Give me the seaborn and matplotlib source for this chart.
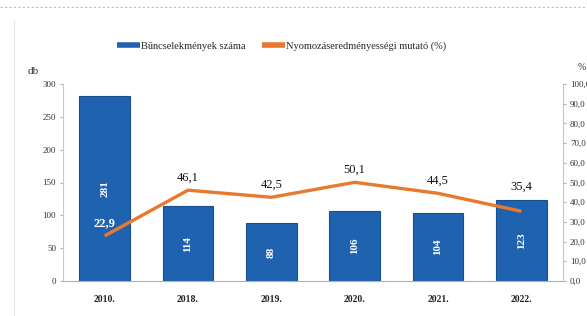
import numpy as np
import pandas as pd
import seaborn as sns
import matplotlib.pyplot as plt
from matplotlib.lines import Line2D

# Data
years = ["2010.", "2018.", "2019.", "2020.", "2021.", "2022."]
crimes = [281, 114, 88, 106, 104, 123]
rates = [22.9, 46.1, 42.5, 50.1, 44.5, 35.4]
left_ticks = [0, 50, 100, 150, 200, 250, 300]
right_ticks = [0, 10, 20, 30, 40, 50, 60, 70, 80, 90, 100]

bar_color = "#1f63b0"
line_color = "#e8792e"

sns.set_style("white")
plt.rcParams["font.family"] = ["Liberation Serif", "DejaVu Serif"]

df = pd.DataFrame({"year": years, "crimes": crimes, "rate": rates})

fig = plt.figure(figsize=(5.87, 3.16), dpi=100)
ax = fig.add_axes([63 / 587, 1 - 281 / 316, 500 / 587, 197 / 316])

sns.barplot(data=df, x="year", y="crimes", color=bar_color, width=0.61,
            saturation=1, edgecolor="#174f8f", linewidth=0.8, ax=ax)
ax.set_ylim(0, 300)
ax.set_xlim(-0.5, 5.5)
ax.set_yticks(left_ticks)
ax.set_yticklabels([str(t) for t in left_ticks])
ax.set_xlabel("")
ax.set_ylabel("")

# Values inside the bars
for i, v in enumerate(crimes):
    ax.text(i, v / 2, str(v), rotation=90, ha="center", va="center",
            color="white", fontsize=8, fontweight="bold")

# Line on the secondary axis
ax2 = ax.twinx()
sns.lineplot(x=np.arange(len(rates)), y=rates, color=line_color,
             linewidth=2.4, ax=ax2, solid_capstyle="butt")
ax2.set_ylim(0, 100)
ax2.set_yticks(right_ticks)
ax2.set_yticklabels([f"{t},0" for t in right_ticks])
ax2.set_ylabel("")
for i, r in enumerate(rates):
    # the last label sits above its bar, as in the source
    dy = 13 if i == len(rates) - 1 else 5
    ax2.annotate(f"{r:.1f}".replace(".", ","), (i, r), xytext=(0, dy),
                 textcoords="offset points", ha="center", va="bottom",
                 fontsize=9, color="white" if i == 0 else "#111111",
                 fontweight="bold" if i == 0 else "normal")

# Axis styling
for a in (ax, ax2):
    a.spines["top"].set_visible(False)
ax.spines["right"].set_visible(False)
ax2.spines["left"].set_visible(False)
ax.spines["left"].set_color("#c8c8c8")
ax2.spines["right"].set_color("#c8c8c8")
ax.spines["bottom"].set_color("#b0b0b0")
ax.spines["bottom"].set_linestyle((0, (1, 1)))
ax2.spines["bottom"].set_visible(False)
ax.tick_params(axis="y", length=2, color="#b0b0b0", labelsize=6.5,
               labelcolor="#333333", pad=3, left=True)
ax2.tick_params(axis="y", length=2, color="#b0b0b0", labelsize=6.5,
                labelcolor="#333333", pad=3, right=True)
ax.tick_params(axis="x", length=0, labelsize=7, pad=10)
for lbl in ax.get_xticklabels():
    lbl.set_fontweight("bold")

# Units
fig.text(28 / 587, 1 - 72 / 316, "db", fontsize=8, color="#333333",
         ha="left", va="center")
fig.text(578 / 587, 1 - 67 / 316, "%", fontsize=7, color="#333333",
         ha="left", va="center")

# Legend
handles = [Line2D([0], [0], color=bar_color, linewidth=4,
                  solid_capstyle="butt"),
           Line2D([0], [0], color=line_color, linewidth=4,
                  solid_capstyle="butt")]
fig.legend(handles, ["Bűncselekmények száma",
                     "Nyomozáseredményességi mutató (%)"],
           loc="center", bbox_to_anchor=(0.48, 1 - 46 / 316), ncol=2,
           frameon=False, fontsize=7.5, handlelength=2.2, handletextpad=0.1,
           columnspacing=1.6)

# Scan frame: dashed line at the top and faint line on the left
fig.add_artist(Line2D([0, 1], [1 - 7 / 316, 1 - 7 / 316], color="#bbbbbb",
                      linewidth=0.8, linestyle=(0, (2, 2))))
fig.add_artist(Line2D([14 / 587, 14 / 587], [0, 1 - 20 / 316],
                      color="#e6e6e6", linewidth=0.8))

fig.savefig("out.png", dpi=100)
